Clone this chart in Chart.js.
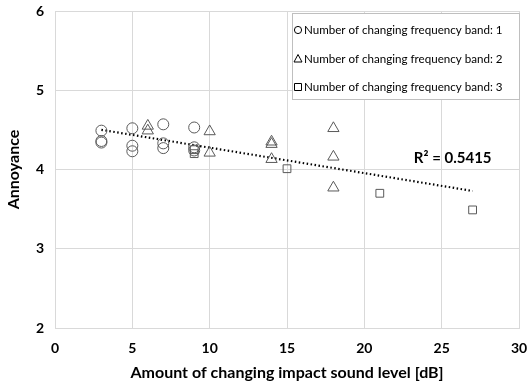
<!DOCTYPE html>
<html>
<head>
<meta charset="utf-8">
<script src="https://cdn.jsdelivr.net/npm/chart.js@4/dist/chart.umd.min.js"></script>
<style>
  html, body { margin: 0; padding: 0; background: #fff; }
  #wrap { width: 531px; height: 382px; }
</style>
</head>
<body>
<div id="wrap"><canvas id="annoyance-canvas"></canvas></div>
<script>
// amount of changing impact sound level [dB] and annoyance rating, per band count
const band1X = [3, 3, 3, 5, 5, 5, 7, 7, 7, 9, 9, 9];
const band1Y = [4.49, 4.36, 4.34, 4.52, 4.30, 4.23, 4.57, 4.33, 4.27, 4.53, 4.28, 4.24];
const band2X = [6, 6, 10, 10, 14, 14, 14, 18, 18, 18];
const band2Y = [4.55, 4.49, 4.48, 4.21, 4.35, 4.32, 4.13, 4.52, 4.16, 3.77];
const band3X = [9, 9, 15, 21, 27];
const band3Y = [4.25, 4.20, 4.01, 3.70, 3.49];

const seriesNames = [
	"Number of changing frequency band: 1",
	"Number of changing frequency band: 2",
	"Number of changing frequency band: 3",
];
const xTicks = [0, 5, 10, 15, 20, 25, 30];
const yTicks = [2, 3, 4, 5, 6];
const rSquaredText = "R\u00b2 = 0.5415";

const toPoints = (xs, ys) => xs.map((x, i) => ({ x: x, y: ys[i] }));

// least squares line over every point, drawn from the smallest to largest x
const allX = band1X.concat(band2X, band3X);
const allY = band1Y.concat(band2Y, band3Y);
const n = allX.length;
const meanX = allX.reduce((a, b) => a + b, 0) / n;
const meanY = allY.reduce((a, b) => a + b, 0) / n;
let sxy = 0, sxx = 0;
allX.forEach((x, i) => {
	sxy += (x - meanX) * (allY[i] - meanY);
	sxx += (x - meanX) * (x - meanX);
});
const slope = sxy / sxx;
const intercept = meanY - slope * meanX;
const xLo = Math.min(...allX);
const xHi = Math.max(...allX);
const trendPoints = [
	{ x: xLo, y: intercept + slope * xLo },
	{ x: xHi, y: intercept + slope * xHi },
];

const markerColor = "#595959";
const markerStyles = ["circle", "triangle", "rect"];
const markerRadius = [5.5, 6.5, 5.5];

const markerSet = (label, data, i) => ({
	type: "scatter",
	label: label,
	data: data,
	pointStyle: markerStyles[i],
	pointRadius: markerRadius[i],
	pointHoverRadius: markerRadius[i],
	pointBorderColor: markerColor,
	pointBackgroundColor: "rgba(0,0,0,0)",
	pointBorderWidth: 1,
	showLine: false,
});

// boxed legend in the upper right corner plus the R² note
const boxLegend = {
	id: "boxLegend",
	afterDatasetsDraw(chart) {
		const ctx = chart.ctx;
		const x = chart.scales.x;
		const y = chart.scales.y;
		const left = 292, top = 13, right = 520, bottom = 100;
		ctx.save();
		ctx.fillStyle = "#fff";
		ctx.fillRect(left, top, right - left, bottom - top);
		ctx.strokeStyle = "#bfbfbf";
		ctx.lineWidth = 1;
		ctx.strokeRect(left + 0.5, top + 0.5, right - left - 1, bottom - top - 1);
		ctx.font = "11.6px Lato";
		ctx.textBaseline = "middle";
		ctx.fillStyle = "#000";
		seriesNames.forEach((name, i) => {
			const cy = 30 + i * 28.5;
			ctx.strokeStyle = "#000";
			ctx.lineWidth = 1;
			ctx.beginPath();
			if (i === 0) {
				ctx.arc(298, cy, 3.6, 0, Math.PI * 2);
			} else if (i === 1) {
				ctx.moveTo(298, cy - 4);
				ctx.lineTo(302, cy + 3.5);
				ctx.lineTo(294, cy + 3.5);
				ctx.closePath();
			} else {
				ctx.rect(294.5, cy - 3.5, 7, 7);
			}
			ctx.stroke();
			ctx.fillText(name, 304, cy + 0.5);
		});
		ctx.font = "bold 15px Lato";
		ctx.textAlign = "left";
		ctx.fillText(rSquaredText, x.getPixelForValue(23.2), y.getPixelForValue(4.14));
		ctx.restore();
	},
};

const annoyanceCanvas = document.getElementById("annoyance-canvas").getContext("2d");

const annoyanceChart = new Chart(annoyanceCanvas, {
	type: "scatter",

	data: {
		datasets: [
			markerSet(seriesNames[0], toPoints(band1X, band1Y), 0),
			markerSet(seriesNames[1], toPoints(band2X, band2Y), 1),
			markerSet(seriesNames[2], toPoints(band3X, band3Y), 2),
			{
				type: "line",
				label: "Linear",
				data: trendPoints,
				borderColor: "#000",
				borderWidth: 2.2,
				borderDash: [1.5, 2.5],
				pointRadius: 0,
				fill: false,
			},
		],
	},

	options: {
		responsive: true,
		maintainAspectRatio: false,
		animation: false,
		layout: {
			padding: { top: 11, right: 12, left: 0, bottom: 0 },
		},
		plugins: {
			legend: { display: false },
			tooltip: { enabled: false },
		},
		scales: {
			x: {
				type: "linear",
				min: 0,
				max: 30,
				afterBuildTicks: (axis) => {
					axis.ticks = xTicks.map((v) => ({ value: v }));
				},
				afterFit: (axis) => {
					axis.height = 54;
					axis.paddingLeft = 0;
					axis.paddingRight = 0;
				},
				grid: {
					color: "#d9d9d9",
					drawTicks: false,
				},
				border: { color: "#d9d9d9" },
				ticks: {
					color: "#000",
					padding: 12,
					font: { family: "Lato", size: 14, weight: "bold" },
				},
				title: {
					display: true,
					text: "Amount of changing impact sound level [dB]",
					color: "#000",
					padding: { top: 1, bottom: 0 },
					font: { family: "Lato", size: 16, weight: "bold" },
				},
			},
			y: {
				type: "linear",
				min: 2,
				max: 6,
				afterBuildTicks: (axis) => {
					axis.ticks = yTicks.map((v) => ({ value: v }));
				},
				afterFit: (axis) => {
					axis.width = 55;
					axis.paddingTop = 0;
					axis.paddingBottom = 0;
				},
				grid: {
					color: "#d9d9d9",
					drawTicks: false,
				},
				border: { color: "#d9d9d9" },
				ticks: {
					color: "#000",
					padding: 11,
					font: { family: "Lato", size: 14, weight: "bold" },
				},
				title: {
					display: true,
					text: "Annoyance",
					color: "#000",
					padding: { top: 4, bottom: 0 },
					font: { family: "Lato", size: 16, weight: "bold" },
				},
			},
		},
	},

	plugins: [boxLegend],
});
</script>
</body>
</html>
